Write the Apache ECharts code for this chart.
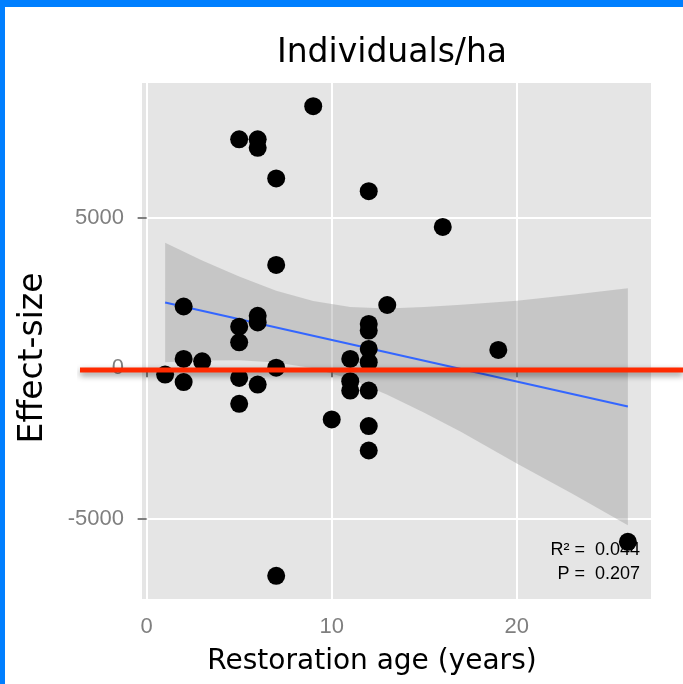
<!DOCTYPE html>
<html>
<head>
<meta charset="utf-8">
<script src="https://cdn.jsdelivr.net/npm/echarts@6/dist/echarts.min.js"></script>
<style>
  html, body { margin: 0; padding: 0; background: #ffffff; }
  #chart { width: 683px; height: 684px; }
</style>
</head>
<body>
<div id="chart"></div>
<script>
// ---- data ----
const age = [1, 2, 2, 2, 3, 5, 5, 5, 5, 5, 6, 6, 6, 6, 6, 7, 7, 7, 7, 9, 10, 11, 11, 11, 12, 12, 12, 12, 12, 12, 12, 12, 13, 16, 19, 26];
const effect = [-210, 2050, 310, -460, 230, 7600, 1380, 860, -320, -1180, 7600, 7320, 1740, 1520, -540, 6300, 3430, 20, -6890, 8700, -1700, 310, -430, -740, 5880, 1470, 1250, 640, 200, -740, -1920, -2730, 2100, 4690, 610, -5760];

// fitted linear trend (end points)
const fitX = [1, 26];
const fitY = [2185, -1268];

// confidence band
const bandX = [1, 3, 5, 7, 9, 11, 13, 15, 17, 20, 23, 26];
const bandUpper = [4170, 3580, 3050, 2570, 2230, 2030, 1980, 2030, 2110, 2240, 2440, 2660];
const bandLower = [200, 260, 270, 190, 0, -360, -880, -1480, -2120, -3160, -4170, -5210];

// axis ticks
const xTicks = [0, 10, 20];
const yTicks = [-5000, 0, 5000];
const xRange = [-0.25, 27.25];
const yRange = [-7660, 9470];

// reference (zero) line
const refLineX = [0, 1];
const refLineY = [-60, -60];

const titleText = 'Individuals/ha';
const xTitle = 'Restoration age (years)';
const yTitle = 'Effect-size';
const statLines = ['R\u00B2 =  0.044', 'P =  0.207'];

const chart = echarts.init(document.getElementById('chart'), null, { renderer: 'canvas' });

const tickColor = '#7f7f7f';

const option = {
  backgroundColor: '#ffffff',
  animation: false,
  grid: [
    { left: 142, right: 32, top: 83, bottom: 85, show: true, backgroundColor: '#e5e5e5', borderWidth: 0 },
    { left: 80, right: 0, top: 83, bottom: 85, show: false }
  ],
  xAxis: [
    {
      gridIndex: 0, type: 'value', min: xRange[0], max: xRange[1],
      axisLine: { show: false },
      axisTick: { show: true, length: 9, customValues: xTicks, lineStyle: { color: tickColor, width: 2 } },
      axisLabel: { customValues: xTicks, color: tickColor, fontSize: 22, fontFamily: 'Liberation Sans', margin: 17,
                   formatter: function (v) { return String(v); } },
      splitLine: { show: true, lineStyle: { color: '#ffffff', width: 2 } }
    },
    { gridIndex: 1, type: 'value', min: 0, max: 1, show: false }
  ],
  yAxis: [
    {
      gridIndex: 0, type: 'value', min: yRange[0], max: yRange[1],
      axisLine: { show: false },
      axisTick: { show: true, length: 9, customValues: yTicks, lineStyle: { color: tickColor, width: 2 } },
      axisLabel: { customValues: yTicks, color: tickColor, fontSize: 22, fontFamily: 'Liberation Sans', margin: 18,
                   formatter: function (v) { return String(v); } },
      splitLine: { show: true, lineStyle: { color: '#ffffff', width: 2 } }
    },
    { gridIndex: 1, type: 'value', min: yRange[0], max: yRange[1], show: false }
  ],
  series: [
    {
      type: 'custom',
      xAxisIndex: 0, yAxisIndex: 0,
      z: 1,
      clip: true,
      data: bandX.map((x, i) => [x, bandLower[i], bandUpper[i]]),
      encode: { x: 0, y: [1, 2] },
      renderItem: function (params, api) {
        if (params.dataIndex !== 0) return null;
        const pts = [];
        for (let i = 0; i < bandX.length; i++) pts.push(api.coord([bandX[i], bandUpper[i]]));
        for (let i = bandX.length - 1; i >= 0; i--) pts.push(api.coord([bandX[i], bandLower[i]]));
        return { type: 'polygon', shape: { points: pts }, style: { fill: 'rgba(153,153,153,0.4)' } };
      },
      silent: true
    },
    {
      type: 'line',
      xAxisIndex: 0, yAxisIndex: 0,
      z: 2,
      data: fitX.map((x, i) => [x, fitY[i]]),
      symbol: 'none',
      lineStyle: { color: '#3366ff', width: 2 },
      silent: true
    },
    {
      type: 'scatter',
      xAxisIndex: 0, yAxisIndex: 0,
      z: 3,
      data: age.map((x, i) => [x, effect[i]]),
      symbol: 'circle',
      symbolSize: 18,
      itemStyle: { color: '#000000', opacity: 1 },
      silent: true
    },
    {
      type: 'line',
      xAxisIndex: 1, yAxisIndex: 1,
      z: 4,
      data: refLineX.map((x, i) => [x, refLineY[i]]),
      symbol: 'none',
      lineStyle: { color: '#ff2a00', width: 5, shadowColor: 'rgba(0,0,0,0.45)', shadowBlur: 6, shadowOffsetY: 3 },
      silent: true
    }
  ],
  graphic: [
    { type: 'rect', left: 0, top: 0, shape: { width: 5, height: 684 }, style: { fill: '#007fff' }, z: 100 },
    { type: 'rect', left: 0, top: 0, shape: { width: 683, height: 7 }, style: { fill: '#007fff' }, z: 100 },
    {
      type: 'text', x: 392, y: 53, z: 100,
      style: { text: titleText, font: '33px "DejaVu Sans"', fill: '#000', align: 'center', verticalAlign: 'middle' }
    },
    {
      type: 'text', x: 372, y: 662, z: 100,
      style: { text: xTitle, font: '28px "DejaVu Sans"', fill: '#000', align: 'center', verticalAlign: 'middle' }
    },
    {
      type: 'text', x: 33, y: 358, rotation: Math.PI / 2, z: 100,
      style: { text: yTitle, font: '33px "DejaVu Sans"', fill: '#000', align: 'center', verticalAlign: 'middle' }
    },
    {
      type: 'text', x: 640, y: 538, z: 100,
      style: { text: statLines.join('\n'), font: '18px "Liberation Sans"', lineHeight: 24, fill: '#000', align: 'right', verticalAlign: 'top' }
    }
  ]
};

chart.setOption(option);
</script>
</body>
</html>
